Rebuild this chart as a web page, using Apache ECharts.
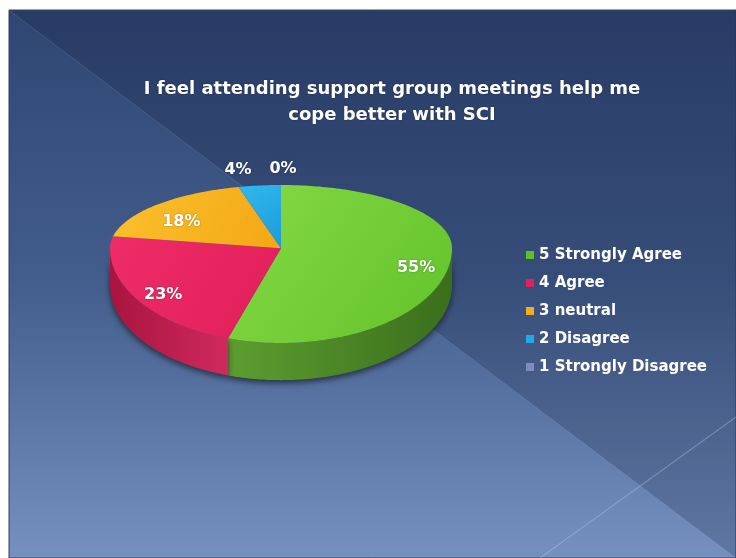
<!DOCTYPE html>
<html>
<head>
<meta charset="utf-8">
<script src="https://cdn.jsdelivr.net/npm/echarts@6/dist/echarts.min.js"></script>
<style>
  html, body { margin: 0; padding: 0; background: #ffffff; }
  #chart { width: 736px; height: 558px; }
</style>
</head>
<body>
<div id="chart"></div>
<script>
// Survey answers and their shares (%)
const categories = ['5 Strongly Agree', '4 Agree', '3 neutral', '2 Disagree', '1 Strongly Disagree'];
const shares = [55, 23, 18, 4, 0];
const titleLines = ['I feel attending support group meetings help me', 'cope better with SCI'];

// Slice colours: legend swatch, top face gradient, side wall gradient
const swatchColors = ['#5cc02a', '#e0215a', '#f5ad1c', '#1eaae4', '#7d8cc0'];
const topColors = [
  ['#86da44', '#62c22a'],
  ['#ee2c68', '#e01e58'],
  ['#fcc02c', '#f3a816'],
  ['#30b8ee', '#1c9cd8'],
  ['#8494c8', '#7080b4']
];
const wallColors = [
  ['#5e9e30', '#3a6e1c'],
  ['#a8143f', '#cf2a5e'],
  ['#c88812', '#e09c18'],
  ['#1680b0', '#1a94c8'],
  ['#5a6898', '#6a78a8']
];

// Tilted-disc geometry in axis units: back half is foreshortened, front half enlarged
const BACK = 0.8, FRONT = 1.2, DEPTH = 0.47;
const total = shares.reduce((a, b) => a + b, 0);

function startAngle(i) {
  let s = 0;
  for (let k = 0; k < i; k++) s += shares[k];
  return s / total * 360;
}

// Point on the rim for an angle measured clockwise from 12 o'clock
function rim(api, deg, scale, drop) {
  const r = deg * Math.PI / 180;
  const x = Math.sin(r) * scale;
  let y = -Math.cos(r) * scale;
  y *= y < 0 ? BACK : FRONT;
  return api.coord([x, y + (drop ? DEPTH : 0)]);
}

function renderSlice(params, api) {
  const i = params.seriesIndex;
  const v = api.value(2);
  const a0 = startAngle(i);
  const a1 = a0 + v / total * 360;
  const children = [];

  if (v > 0) {
    // Front wall (only the part of the rim that faces the viewer)
    const lo = Math.max(a0, 90), hi = Math.min(a1, 270);
    if (lo < hi) {
      const pts = [];
      for (let d = lo; d <= hi; d += 1) pts.push(rim(api, d, 1, false));
      pts.push(rim(api, hi, 1, false));
      pts.push(rim(api, hi, 1, true));
      for (let d = hi; d >= lo; d -= 1) pts.push(rim(api, d, 1, true));
      pts.push(rim(api, lo, 1, true));
      children.push({
        type: 'polygon',
        shape: { points: pts },
        style: {
          fill: new echarts.graphic.LinearGradient(0, 0, 1, 0, [
            { offset: 0, color: wallColors[i][0] },
            { offset: 1, color: wallColors[i][1] }
          ]),
          shadowColor: 'rgba(0,0,0,0.55)',
          shadowBlur: 6,
          shadowOffsetY: 3
        }
      });
    }
    // Top face
    const top = [api.coord([0, 0])];
    for (let d = a0; d <= a1; d += 1) top.push(rim(api, d, 1, false));
    top.push(rim(api, a1, 1, false));
    children.push({
      type: 'polygon',
      shape: { points: top },
      style: {
        fill: new echarts.graphic.LinearGradient(0, 0, 1, 1, [
          { offset: 0, color: topColors[i][0] },
          { offset: 1, color: topColors[i][1] }
        ])
      }
    });
  }

  // Percentage label
  const mid = (a0 + a1) / 2;
  const label = Math.round(v / total * 100) + '%';
  let p, align = 'center';
  if (v >= 10) {
    p = rim(api, mid, 0.8, false);
    p = [p[0], p[1] + 8];
  } else {
    p = rim(api, mid, 1, false);
    const s = Math.sin(mid * Math.PI / 180);
    if (s < -0.01) { align = 'right'; p = [p[0] - 8, p[1] - 16]; }
    else if (s > 0.01) { align = 'left'; p = [p[0] + 8, p[1] - 16]; }
    else { p = [p[0] + 2, p[1] - 16]; }
  }
  children.push({
    type: 'text',
    x: p[0],
    y: p[1],
    z2: 10,
    style: {
      text: label,
      fill: '#ffffff',
      fontSize: 16,
      fontWeight: 'bold',
      fontFamily: 'DejaVu Sans',
      align: align,
      verticalAlign: 'middle',
      textShadowColor: 'rgba(0,0,0,0.35)',
      textShadowBlur: 2
    }
  });
  return { type: 'group', children: children };
}

const series = categories.map((name, i) => ({
  name: name,
  type: 'custom',
  coordinateSystem: 'cartesian2d',
  clip: false,
  z: 3,
  itemStyle: { color: swatchColors[i] },
  data: [{ value: [0, 0, shares[i]], name: name }],
  renderItem: renderSlice,
  silent: true
}));

const chart = echarts.init(document.getElementById('chart'), null, { renderer: 'canvas' });
chart.setOption({
  animation: false,
  backgroundColor: '#ffffff',
  graphic: [
    {
      type: 'rect', z: 0,
      shape: { x: 9, y: 10, width: 727, height: 548 },
      style: {
        fill: new echarts.graphic.LinearGradient(0, 0, 0, 1, [
          { offset: 0, color: '#2f4672' },
          { offset: 0.5, color: '#435d8c' },
          { offset: 1, color: '#7690c0' }
        ]),
        stroke: '#3a3f48', lineWidth: 1
      }
    },
    {
      type: 'polygon', z: 0,
      shape: { points: [[10, 11], [736, 11], [736, 558]] },
      style: { fill: 'rgba(12,22,50,0.2)' }
    },
    {
      type: 'line', z: 0,
      shape: { x1: 10, y1: 11, x2: 736, y2: 558 },
      style: { stroke: 'rgba(170,190,225,0.18)', lineWidth: 1 }
    },
    {
      type: 'line', z: 0,
      shape: { x1: 736, y1: 417, x2: 540, y2: 558 },
      style: { stroke: 'rgba(190,205,235,0.35)', lineWidth: 1.2 }
    }
  ],
  title: {
    text: titleLines.join('\n'),
    left: 387,
    top: 71,
    textAlign: 'center',
    textStyle: {
      color: '#ffffff',
      fontSize: 18,
      fontWeight: 'bold',
      fontFamily: 'DejaVu Sans',
      lineHeight: 26,
      align: 'center',
      textShadowColor: 'rgba(0,0,0,0.3)',
      textShadowBlur: 2
    },
    z: 6
  },
  legend: {
    orient: 'vertical',
    left: 521,
    top: 241,
    icon: 'rect',
    itemWidth: 8,
    itemHeight: 8,
    itemGap: 10,
    selectedMode: false,
    data: categories,
    textStyle: {
      color: '#ffffff',
      fontSize: 15,
      fontWeight: 'bold',
      fontFamily: 'DejaVu Sans',
      lineHeight: 18
    }
  },
  grid: { left: 110, width: 342, top: 185, height: 158 },
  xAxis: { type: 'value', min: -1, max: 1, show: false },
  yAxis: { type: 'value', min: -BACK, max: FRONT, inverse: true, show: false },
  series: series
});
</script>
</body>
</html>
